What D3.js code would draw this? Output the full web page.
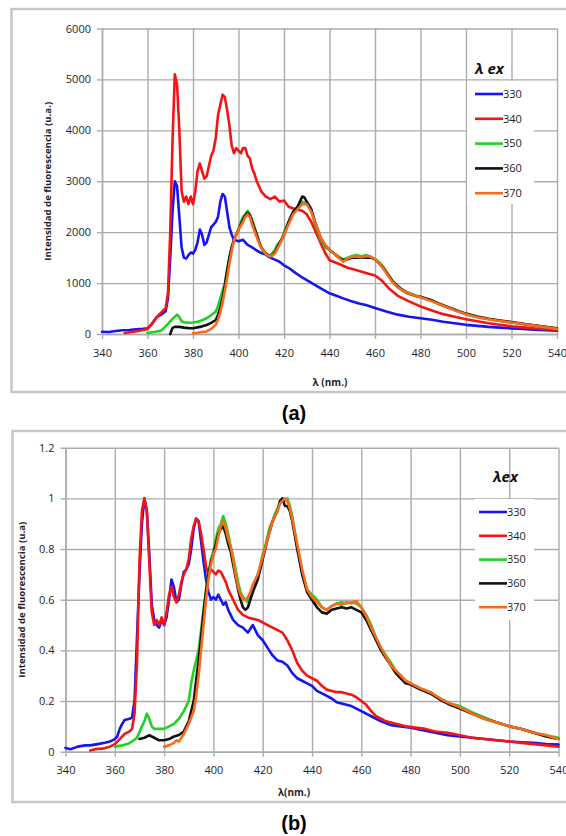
<!DOCTYPE html>
<html>
<head>
<meta charset="utf-8">
<script src="https://cdn.jsdelivr.net/npm/d3@7"></script>
<style>
  body { margin: 0; background: #fff; }
  svg { display: block; }
  text { font-family: "Open Sans", "Liberation Sans", sans-serif; }
</style>
</head>
<body>
<svg id="chart"></svg>
<script>
let width = 566;
let height = 836;

// axis ticks
const WAVE_TICKS = [340, 360, 380, 400, 420, 440, 460, 480, 500, 520, 540];
const COUNT_TICKS = [0, 1000, 2000, 3000, 4000, 5000, 6000];
const NORM_TICKS = [0, 0.2, 0.4, 0.6, 0.8, 1, 1.2];

// excitation wavelengths (legend)
const SERIES = ['330', '340', '350', '360', '370'];

const COLORS = {
  '330': '#1414f5',
  '340': '#f51414',
  '350': '#1fd21f',
  '360': '#111111',
  '370': '#fa6a1e'
};

// panel (a): raw intensity, [lambda, u.a.]
const raw330 = [[340,45],[343,40],[346,60],[349,75],[352,80],[355,90],[358,100],[360,110],[362,200],[364,330],[366,380],[368,450],[369,700],[370,1500],[371,2400],[372,3000],[373,2900],[374,2300],[375,1700],[376,1500],[377,1480],[378,1550],[379,1600],[380,1580],[381,1650],[382,1800],[383,2050],[384,1950],[385,1750],[386,1800],[387,1950],[388,2100],[389,2150],[390,2200],[391,2300],[392,2600],[393,2750],[394,2700],[395,2400],[396,2100],[397,1950],[398,1850],[400,1820],[402,1850],[404,1750],[406,1700],[408,1640],[410,1590],[412,1560],[414,1500],[416,1460],[418,1420],[420,1350],[422,1300],[425,1200],[428,1110],[430,1060],[433,980],[436,900],[440,800],[443,750],[446,700],[450,640],[453,600],[456,570],[460,510],[465,440],[470,380],[475,340],[480,310],[485,280],[490,240],[495,210],[500,180],[505,160],[510,140],[515,125],[520,110],[525,100],[530,85],[535,75],[540,65]];
const raw340 = [[350,20],[353,40],[356,60],[360,100],[362,200],[364,330],[366,420],[368,510],[369,800],[370,2000],[371,3800],[372,5100],[373,4900],[374,4000],[375,2800],[376,2600],[377,2700],[378,2550],[379,2700],[380,2550],[381,2800],[382,3200],[383,3350],[384,3200],[385,3050],[386,3100],[387,3300],[388,3500],[389,3600],[390,3850],[391,4300],[392,4500],[393,4700],[394,4650],[395,4400],[396,4100],[397,3700],[398,3550],[399,3650],[400,3600],[401,3550],[402,3650],[403,3650],[404,3500],[405,3450],[406,3250],[407,3150],[408,3000],[409,2900],[410,2800],[412,2700],[414,2650],[416,2700],[418,2600],[420,2620],[422,2500],[425,2450],[428,2420],[430,2350],[432,2200],[434,2000],[436,1800],[438,1600],[440,1450],[444,1380],[448,1300],[452,1250],[456,1200],[460,1150],[463,1050],[466,900],[470,750],[475,640],[480,540],[485,460],[490,390],[495,340],[500,290],[505,250],[510,210],[515,180],[520,150],[525,130],[530,110],[535,95],[540,80]];
const raw350 = [[360,20],[363,40],[366,70],[368,150],[370,250],[372,340],[373,380],[374,330],[375,250],[376,230],[378,220],[380,225],[382,240],[384,270],[386,310],[388,370],[390,440],[391,550],[392,700],[393,850],[394,1000],[395,1250],[396,1500],[397,1700],[398,1850],[399,1950],[400,2050],[401,2200],[402,2300],[403,2350],[404,2420],[405,2350],[406,2250],[407,2100],[408,1950],[409,1800],[410,1700],[411,1620],[412,1580],[413,1560],[414,1530],[415,1600],[416,1650],[417,1750],[418,1800],[419,1850],[420,2000],[421,2100],[422,2200],[423,2300],[424,2380],[425,2450],[426,2500],[427,2550],[428,2600],[429,2580],[430,2560],[431,2500],[432,2400],[433,2250],[434,2100],[435,2000],[436,1850],[437,1800],[438,1700],[440,1650],[442,1580],[444,1520],[446,1460],[448,1500],[450,1530],[452,1550],[454,1520],[456,1550],[458,1520],[460,1470],[462,1400],[464,1300],[466,1150],[468,1020],[470,920],[472,850],[474,800],[476,770],[478,740],[480,720],[484,670],[488,590],[492,520],[496,450],[500,390],[505,330],[510,290],[515,255],[520,225],[525,195],[530,165],[535,135],[540,105]];
const raw360 = [[370,0],[371,120],[372,140],[374,140],[376,125],[378,115],[380,112],[382,130],[384,150],[386,177],[388,220],[390,275],[391,380],[392,520],[393,700],[394,950],[395,1250],[396,1500],[397,1700],[398,1850],[399,1950],[400,2050],[402,2250],[403,2330],[404,2380],[405,2330],[406,2200],[408,1950],[410,1700],[412,1580],[414,1520],[416,1600],[418,1780],[420,1950],[422,2200],[424,2400],[426,2500],[427,2600],[428,2700],[429,2680],[430,2600],[432,2450],[434,2150],[436,1900],[438,1750],[440,1650],[442,1580],[444,1500],[446,1450],[448,1470],[450,1500],[452,1500],[454,1510],[456,1500],[458,1500],[460,1470],[462,1380],[464,1270],[466,1150],[468,1020],[470,940],[472,870],[474,820],[476,780],[478,750],[480,730],[484,680],[488,600],[492,530],[496,460],[500,400],[505,345],[510,300],[515,265],[520,235],[525,200],[530,170],[535,140],[540,110]];
const raw370 = [[380,15],[382,25],[384,40],[386,50],[388,100],[390,180],[391,280],[392,420],[393,620],[394,850],[395,1100],[396,1380],[397,1630],[398,1830],[399,1950],[400,2050],[402,2200],[403,2300],[404,2350],[405,2300],[406,2150],[408,1900],[410,1700],[412,1570],[414,1520],[416,1580],[418,1750],[420,1950],[422,2150],[424,2350],[426,2450],[428,2550],[430,2550],[432,2400],[434,2150],[436,1900],[438,1750],[440,1650],[442,1580],[444,1500],[446,1420],[448,1480],[450,1520],[452,1520],[454,1520],[456,1530],[458,1520],[460,1470],[462,1380],[464,1260],[466,1130],[468,1000],[470,920],[472,860],[476,780],[480,720],[484,660],[488,590],[492,520],[496,450],[500,390],[505,330],[510,290],[515,255],[520,225],[525,195],[530,165],[535,135],[540,100]];

// panel (b): normalised intensity, [lambda, u.a]
const norm330 = [[340,0.015],[342,0.01],[345,0.02],[348,0.025],[350,0.025],[353,0.03],[356,0.035],[358,0.04],[360,0.05],[361,0.06],[362,0.09],[363,0.11],[364,0.125],[366,0.13],[367,0.135],[368,0.2],[369,0.45],[370,0.7],[371,0.9],[372,1.0],[373,0.95],[374,0.78],[375,0.58],[376,0.52],[377,0.5],[378,0.49],[379,0.52],[380,0.5],[381,0.53],[382,0.6],[383,0.68],[384,0.65],[385,0.59],[386,0.6],[387,0.66],[388,0.71],[389,0.72],[390,0.74],[391,0.8],[392,0.88],[393,0.92],[394,0.91],[395,0.83],[396,0.75],[397,0.68],[398,0.63],[399,0.6],[400,0.61],[401,0.6],[402,0.62],[403,0.6],[404,0.58],[405,0.59],[406,0.56],[407,0.54],[408,0.52],[410,0.5],[412,0.49],[414,0.47],[416,0.5],[418,0.46],[420,0.44],[422,0.41],[424,0.38],[426,0.36],[428,0.355],[430,0.34],[432,0.31],[434,0.29],[436,0.28],[438,0.27],[440,0.26],[442,0.24],[444,0.23],[446,0.22],[448,0.21],[450,0.195],[452,0.19],[454,0.185],[456,0.18],[458,0.17],[460,0.16],[464,0.14],[468,0.12],[472,0.105],[476,0.1],[480,0.095],[485,0.085],[490,0.075],[495,0.065],[500,0.06],[505,0.055],[510,0.05],[515,0.045],[520,0.04],[525,0.037],[530,0.035],[535,0.03],[540,0.028]];
const norm340 = [[350,0.005],[352,0.01],[355,0.012],[358,0.02],[360,0.03],[362,0.05],[364,0.07],[366,0.08],[367,0.09],[368,0.15],[369,0.35],[370,0.75],[371,0.95],[372,1.0],[373,0.95],[374,0.75],[375,0.55],[376,0.5],[377,0.52],[378,0.5],[379,0.53],[380,0.5],[381,0.55],[382,0.62],[383,0.65],[384,0.61],[385,0.59],[386,0.62],[387,0.67],[388,0.7],[389,0.72],[390,0.76],[391,0.84],[392,0.89],[393,0.92],[394,0.91],[395,0.86],[396,0.8],[397,0.73],[398,0.7],[399,0.72],[400,0.71],[401,0.7],[402,0.715],[403,0.71],[404,0.69],[405,0.67],[406,0.64],[407,0.62],[408,0.6],[410,0.56],[412,0.54],[414,0.53],[416,0.525],[418,0.52],[420,0.51],[422,0.5],[424,0.49],[426,0.48],[428,0.47],[430,0.44],[432,0.4],[434,0.35],[436,0.32],[438,0.3],[440,0.29],[442,0.28],[444,0.26],[446,0.245],[448,0.24],[450,0.235],[452,0.235],[454,0.23],[456,0.225],[458,0.215],[460,0.2],[462,0.185],[464,0.16],[466,0.14],[468,0.13],[470,0.12],[474,0.11],[478,0.1],[482,0.095],[486,0.09],[490,0.08],[495,0.075],[500,0.065],[505,0.055],[510,0.05],[515,0.045],[520,0.04],[525,0.035],[530,0.03],[535,0.025],[540,0.02]];
const norm350 = [[360,0.02],[363,0.025],[365,0.03],[367,0.04],[369,0.055],[371,0.1],[372,0.12],[373,0.15],[374,0.13],[375,0.1],[376,0.09],[378,0.09],[380,0.09],[382,0.1],[384,0.11],[386,0.13],[388,0.16],[390,0.2],[391,0.27],[392,0.32],[393,0.36],[394,0.4],[395,0.48],[396,0.56],[397,0.64],[398,0.7],[399,0.76],[400,0.79],[401,0.84],[402,0.88],[403,0.9],[404,0.93],[405,0.9],[406,0.86],[407,0.81],[408,0.77],[409,0.72],[410,0.67],[411,0.63],[412,0.61],[413,0.6],[414,0.59],[415,0.62],[416,0.64],[417,0.67],[418,0.7],[419,0.73],[420,0.78],[421,0.81],[422,0.85],[423,0.89],[424,0.91],[425,0.94],[426,0.96],[427,0.98],[428,1.0],[429,0.99],[430,1.0],[431,0.97],[432,0.93],[433,0.87],[434,0.81],[435,0.76],[436,0.71],[437,0.67],[438,0.64],[440,0.62],[442,0.6],[444,0.57],[446,0.56],[448,0.575],[450,0.585],[452,0.59],[454,0.585],[456,0.59],[458,0.585],[460,0.57],[462,0.54],[464,0.5],[466,0.45],[468,0.41],[470,0.38],[472,0.35],[474,0.32],[476,0.3],[478,0.28],[480,0.27],[484,0.25],[488,0.235],[492,0.21],[496,0.19],[500,0.18],[505,0.155],[510,0.135],[515,0.115],[520,0.1],[525,0.09],[530,0.075],[535,0.065],[540,0.055]];
const norm360 = [[370,0.05],[372,0.055],[374,0.065],[376,0.055],[378,0.045],[380,0.045],[382,0.05],[384,0.06],[386,0.066],[388,0.08],[390,0.12],[392,0.2],[393,0.28],[394,0.36],[395,0.45],[396,0.55],[397,0.63],[398,0.7],[399,0.75],[400,0.78],[401,0.82],[402,0.86],[403,0.88],[404,0.89],[405,0.86],[406,0.82],[407,0.79],[408,0.74],[409,0.69],[410,0.64],[411,0.6],[412,0.57],[413,0.56],[414,0.57],[415,0.6],[416,0.63],[418,0.68],[420,0.76],[422,0.84],[424,0.91],[426,0.95],[427,0.99],[428,1.0],[429,0.97],[430,0.97],[431,0.95],[432,0.91],[434,0.8],[436,0.7],[438,0.63],[440,0.6],[442,0.57],[444,0.55],[446,0.545],[448,0.56],[450,0.565],[452,0.57],[454,0.565],[456,0.57],[458,0.56],[460,0.55],[462,0.52],[464,0.48],[466,0.44],[468,0.4],[470,0.37],[472,0.34],[474,0.31],[476,0.29],[478,0.27],[480,0.265],[484,0.245],[488,0.23],[492,0.205],[496,0.185],[500,0.17],[505,0.15],[510,0.13],[515,0.115],[520,0.1],[525,0.09],[530,0.075],[535,0.06],[540,0.05]];
const norm370 = [[380,0.02],[382,0.025],[384,0.035],[385,0.045],[386,0.04],[388,0.07],[389,0.09],[390,0.11],[392,0.16],[393,0.22],[394,0.3],[395,0.4],[396,0.5],[397,0.6],[398,0.68],[399,0.74],[400,0.78],[401,0.8],[402,0.85],[403,0.89],[404,0.91],[405,0.88],[406,0.84],[407,0.81],[408,0.76],[409,0.7],[410,0.65],[411,0.62],[412,0.6],[413,0.6],[414,0.61],[415,0.63],[416,0.66],[418,0.7],[420,0.77],[422,0.84],[424,0.91],[426,0.95],[427,0.98],[428,0.99],[429,1.0],[430,0.99],[431,0.96],[432,0.92],[434,0.82],[436,0.72],[438,0.64],[440,0.61],[442,0.59],[444,0.57],[446,0.56],[448,0.575],[450,0.585],[452,0.58],[454,0.59],[456,0.585],[458,0.595],[460,0.57],[462,0.535],[464,0.49],[466,0.45],[468,0.41],[470,0.375],[472,0.34],[474,0.32],[476,0.3],[478,0.28],[480,0.27],[484,0.25],[488,0.235],[492,0.21],[496,0.19],[500,0.175],[505,0.15],[510,0.13],[515,0.115],[520,0.1],[525,0.09],[530,0.075],[535,0.065],[540,0.05]];

let svg = d3.select('#chart')
  .attr('width', width)
  .attr('height', height);

const GRID = '#ababab';
const INK = '#1e1e2a';

function buildPanel(p) {
  let x = d3.scaleLinear().domain([340, 540]).range([p.left, p.right]);
  let y = d3.scaleLinear().domain([0, p.yMax]).range([p.bottom, p.top]);

  // outer frame
  svg.append('rect')
    .attr('x', p.frame[0]).attr('y', p.frame[1])
    .attr('width', width + 20 - p.frame[0]).attr('height', p.frame[2] - p.frame[1])
    .attr('fill', 'none').attr('stroke', '#c6c6c6').attr('stroke-width', 2.5);

  // grid
  svg.append('g')
    .attr('transform', `translate(${p.left},0)`)
    .call(d3.axisLeft(y).tickValues(p.yTicks).tickSize(-(p.right - p.left)).tickFormat(''))
    .call(g => g.select('.domain').remove())
    .call(g => g.selectAll('line').attr('stroke', GRID).attr('stroke-width', 1.4));

  svg.append('g')
    .attr('transform', `translate(0,${p.bottom})`)
    .call(d3.axisBottom(x).tickValues(WAVE_TICKS).tickSize(-(p.bottom - p.top)).tickFormat(''))
    .call(g => g.select('.domain').remove())
    .call(g => g.selectAll('line').attr('stroke', GRID).attr('stroke-width', 1.4));

  // axes with outside tick marks
  svg.append('g')
    .attr('transform', `translate(${p.left},0)`)
    .call(d3.axisLeft(y).tickValues(p.yTicks).tickSize(5).tickPadding(6).tickSizeOuter(0)
      .tickFormat(d => String(d)))
    .call(g => g.select('.domain').attr('stroke', GRID).attr('stroke-width', 1.4))
    .call(g => g.selectAll('line').attr('stroke', GRID).attr('stroke-width', 1.4))
    .call(g => g.selectAll('text').attr('fill', INK).attr('font-size', 11)
      .style('font-family', '"Open Sans", sans-serif'));

  svg.append('g')
    .attr('transform', `translate(0,${p.bottom})`)
    .call(d3.axisBottom(x).tickValues(WAVE_TICKS).tickSize(5).tickPadding(10).tickSizeOuter(0))
    .call(g => g.select('.domain').attr('stroke', GRID).attr('stroke-width', 1.4))
    .call(g => g.selectAll('line').attr('stroke', GRID).attr('stroke-width', 1.4))
    .call(g => g.selectAll('text').attr('fill', INK).attr('font-size', 11)
      .style('font-family', '"Open Sans", sans-serif'));

  // legend box (behind the curves, over the grid)
  svg.append('rect')
    .attr('x', p.legend.box[0]).attr('y', p.legend.box[1])
    .attr('width', p.legend.box[2]).attr('height', p.legend.box[3])
    .attr('fill', '#fff');

  let line = d3.line().x(d => x(d[0])).y(d => y(d[1]));

  svg.append('g')
    .selectAll('path')
    .data(SERIES)
    .enter()
    .append('path')
      .attr('d', s => line(p.data[s]))
      .attr('fill', 'none')
      .attr('stroke', s => COLORS[s])
      .attr('stroke-width', 2.6)
      .attr('stroke-linejoin', 'round')
      .attr('stroke-linecap', 'round');

  // legend
  svg.append('text')
    .attr('x', p.legend.title[0]).attr('y', p.legend.title[1])
    .attr('font-size', 15).attr('font-weight', 'bold').attr('font-style', 'italic')
    .attr('fill', '#111')
    .text(p.legend.label);

  let items = svg.append('g')
    .selectAll('g')
    .data(SERIES)
    .enter()
    .append('g')
      .attr('transform', (s, i) => `translate(${p.legend.x},${p.legend.y + i * p.legend.step})`);

  items.append('line')
    .attr('x1', 0).attr('x2', 28)
    .attr('stroke', s => COLORS[s]).attr('stroke-width', 2.6);

  items.append('text')
    .attr('x', 28).attr('dy', '0.35em')
    .attr('font-size', 11).attr('fill', INK)
    .text(s => s);

  // axis titles
  svg.append('text')
    .attr('transform', `translate(${p.yTitle[0]},${(p.top + p.bottom) / 2}) rotate(-90)`)
    .attr('text-anchor', 'middle').attr('dy', '0.35em')
    .attr('font-size', 9.6).attr('font-weight', 'bold').attr('fill', INK)
    .text(p.yLabel);

  svg.append('text')
    .attr('x', p.xTitle[0]).attr('y', p.xTitle[1])
    .attr('text-anchor', 'middle').attr('dy', '0.35em')
    .attr('font-size', 10).attr('font-weight', 'bold').attr('fill', INK)
    .text(p.xLabel);

  svg.append('text')
    .attr('x', 294).attr('y', p.caption)
    .attr('text-anchor', 'middle').attr('dy', '0.35em')
    .attr('font-size', 20).attr('font-weight', 'bold').attr('fill', '#000')
    .style('font-family', '"Liberation Sans", Arial, sans-serif')
    .text(p.captionText);
}

buildPanel({
  left: 102, right: 557, top: 28.5, bottom: 334,
  yMax: 6000, yTicks: COUNT_TICKS,
  frame: [11.5, 9, 392],
  data: { '330': raw330, '340': raw340, '350': raw350, '360': raw360, '370': raw370 },
  legend: { box: [467, 81, 67, 123], title: [475, 74], label: 'λ ex', x: 475, y: 94, step: 24.8 },
  yTitle: [48], yLabel: 'Intensidad de fluorescencia (u.a.)',
  xTitle: [330, 382], xLabel: 'λ (nm.)',
  caption: 413, captionText: '(a)'
});

buildPanel({
  left: 65.5, right: 558.5, top: 447.7, bottom: 751.7,
  yMax: 1.2, yTicks: NORM_TICKS,
  frame: [12.5, 431, 802],
  data: { '330': norm330, '340': norm340, '350': norm350, '360': norm360, '370': norm370 },
  legend: { box: [475, 499, 59, 121], title: [493, 482], label: 'λex', x: 479, y: 512, step: 23.8 },
  yTitle: [22], yLabel: 'Intensidad de fluorescencia (u.a)',
  xTitle: [294, 792], xLabel: 'λ(nm.)',
  caption: 823, captionText: '(b)'
});
</script>
</body>
</html>
